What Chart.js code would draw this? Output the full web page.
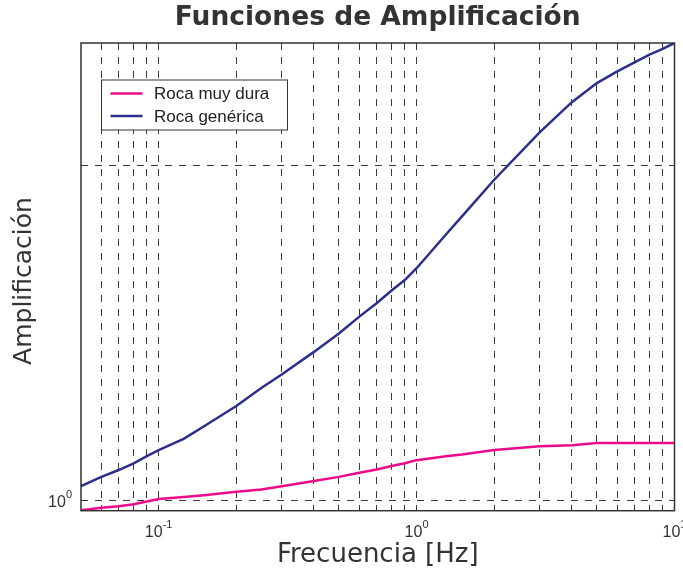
<!DOCTYPE html>
<html>
<head>
<meta charset="utf-8">
<script src="https://cdn.jsdelivr.net/npm/chart.js@4.4.1/dist/chart.umd.min.js"></script>
<style>
  html, body { margin: 0; padding: 0; background: #fff; }
  canvas { display: block; }
</style>
</head>
<body>
<canvas id="c" width="683" height="578"></canvas>
<script>
// Frequency samples [Hz]
const freqs = [0.05, 0.06, 0.07, 0.08, 0.09, 0.1, 0.125, 0.15, 0.2, 0.25, 0.3, 0.4, 0.5, 0.6, 0.7, 0.8, 0.9,
               1.0, 1.3, 1.5, 2, 3, 4, 5, 6, 7, 8, 9, 10];
// Amplification for very hard rock
const rocaMuyDura = [0.981, 0.986, 0.989, 0.993, 0.999, 1.004, 1.008, 1.012, 1.019, 1.024, 1.031, 1.042, 1.051, 1.060, 1.067, 1.075, 1.081,
                     1.088, 1.097, 1.101, 1.111, 1.120, 1.122, 1.127, 1.127, 1.127, 1.127, 1.127, 1.127];
// Amplification for generic rock
const rocaGenerica = [1.031, 1.051, 1.066, 1.081, 1.097, 1.111, 1.137, 1.167, 1.217, 1.263, 1.299, 1.361, 1.414, 1.464, 1.505, 1.545, 1.579,
                      1.618, 1.735, 1.801, 1.943, 2.143, 2.281, 2.373, 2.431, 2.477, 2.517, 2.547, 2.578];
const seriesNames = ['Roca muy dura', 'Roca genérica'];
// Grid positions and labelled decades
const xGrid = [0.06, 0.07, 0.08, 0.09, 0.1, 0.2, 0.3, 0.4, 0.5, 0.6, 0.7, 0.8, 0.9, 1, 2, 3, 4, 5, 6, 7, 8, 9, 10];
const xDecades = [0.1, 1, 10];
const xDecadeExp = ['-1', '0', '1'];
const yGrid = [1, 2];
const yDecades = [1];
const yDecadeExp = ['0'];

const COL_PINK = '#ec0a8c';
const COL_BLUE = '#2b2f8e';
const TEXT = '#333333';

function pts(vals) { return freqs.map((f, i) => ({ x: f, y: vals[i] })); }

function drawPow(ctx, base, exp, cx, baseY, align) {
  ctx.font = '16px "Liberation Sans", Arial, sans-serif';
  const wb = ctx.measureText(base).width;
  ctx.font = '11px "Liberation Sans", Arial, sans-serif';
  const we = ctx.measureText(exp).width;
  const total = wb + we;
  const x0 = align === 'right' ? cx - total : cx - total / 2;
  ctx.textAlign = 'left';
  ctx.textBaseline = 'alphabetic';
  ctx.font = '16px "Liberation Sans", Arial, sans-serif';
  ctx.fillText(base, x0, baseY);
  ctx.font = '11px "Liberation Sans", Arial, sans-serif';
  ctx.fillText(exp, x0 + wb, baseY - 9);
}

const decor = {
  id: 'decor',
  afterDraw(chart) {
    const ctx = chart.ctx;
    const a = chart.chartArea;
    const xs = chart.scales.x, ys = chart.scales.y;
    ctx.save();
    // axes box
    ctx.strokeStyle = '#333';
    ctx.lineWidth = 1.5;
    ctx.setLineDash([]);
    ctx.strokeRect(a.left, a.top, a.right - a.left, a.bottom - a.top);

    // tick labels
    ctx.fillStyle = TEXT;
    xDecades.forEach((v, i) => drawPow(ctx, '10', xDecadeExp[i], xs.getPixelForValue(v), a.bottom + 26, 'center'));
    yDecades.forEach((v, i) => drawPow(ctx, '10', yDecadeExp[i], a.left - 9, ys.getPixelForValue(v) + 6, 'right'));

    // title and axis titles
    ctx.textAlign = 'center';
    ctx.textBaseline = 'middle';
    ctx.font = 'bold 26.5px "DejaVu Sans", Verdana, sans-serif';
    ctx.fillText('Funciones de Amplificación', (a.left + a.right) / 2, 18);
    ctx.font = '26px "DejaVu Sans", Verdana, sans-serif';
    ctx.fillText('Frecuencia [Hz]', (a.left + a.right) / 2, 555);
    ctx.save();
    ctx.translate(24, 281);
    ctx.rotate(-Math.PI / 2);
    ctx.font = '25px "DejaVu Sans", Verdana, sans-serif';
    ctx.fillText('Amplificación', 0, 0);
    ctx.restore();

    // legend
    const lx = 101.5, ly = 80, lw = 186, lh = 50;
    ctx.fillStyle = '#fff';
    ctx.fillRect(lx, ly, lw, lh);
    ctx.strokeStyle = '#333';
    ctx.lineWidth = 1;
    ctx.strokeRect(lx, ly, lw, lh);
    const rows = [ly + 13.5, ly + 36];
    chart.data.datasets.forEach((ds, i) => {
      ctx.strokeStyle = ds.borderColor;
      ctx.lineWidth = 2.5;
      ctx.beginPath();
      ctx.moveTo(lx + 9, rows[i]);
      ctx.lineTo(lx + 41, rows[i]);
      ctx.stroke();
      ctx.fillStyle = '#222';
      ctx.font = '17px "Liberation Sans", Arial, sans-serif';
      ctx.textAlign = 'left';
      ctx.textBaseline = 'middle';
      ctx.fillText(ds.label, lx + 52.5, rows[i] + 1);
    });
    ctx.restore();
  }
};

const gridOpts = { color: '#3a3a3a', lineWidth: 1, drawTicks: false };
const borderOpts = { display: false, dash: [7, 7] };

new Chart(document.getElementById('c'), {
  type: 'line',
  data: {
    datasets: [
      { label: seriesNames[0], data: pts(rocaMuyDura), borderColor: COL_PINK, backgroundColor: COL_PINK,
        borderWidth: 2.5, pointRadius: 0, tension: 0, fill: false },
      { label: seriesNames[1], data: pts(rocaGenerica), borderColor: COL_BLUE, backgroundColor: COL_BLUE,
        borderWidth: 2.5, pointRadius: 0, tension: 0, fill: false }
    ]
  },
  options: {
    responsive: false,
    animation: false,
    devicePixelRatio: 1,
    parsing: false,
    layout: { padding: { left: 81, top: 43, right: 8.5, bottom: 67.3 } },
    plugins: { legend: { display: false }, title: { display: false }, tooltip: { enabled: false } },
    scales: {
      x: {
        type: 'logarithmic', min: 0.05, max: 10,
        ticks: { display: false },
        grid: gridOpts, border: borderOpts,
        afterBuildTicks(s) { s.ticks = xGrid.map(v => ({ value: v })); },
        afterFit(s) { s.height = 0; }
      },
      y: {
        type: 'logarithmic', min: 0.98, max: 2.578,
        ticks: { display: false },
        grid: gridOpts, border: borderOpts,
        afterBuildTicks(s) { s.ticks = yGrid.map(v => ({ value: v })); },
        afterFit(s) { s.width = 0; }
      }
    }
  },
  plugins: [decor]
});
</script>
</body>
</html>
